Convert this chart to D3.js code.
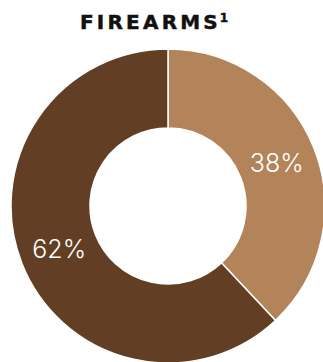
<!DOCTYPE html>
<html>
<head>
<meta charset="utf-8">
<script src="https://cdn.jsdelivr.net/npm/d3@7"></script>
<style>
  body { margin: 0; background: #fff; }
  svg { display: block; }
</style>
</head>
<body>
<script>
/* data */
var categories = ["Share A", "Share B"];
var values = [38, 62];
var colors = ["#B3835A", "#623F24"];

var width = 323, height = 362;
var cx = 168, cy = 206;
var outerR = 157, innerR = 78;

var svg = d3.select("body").append("svg")
  .attr("width", width)
  .attr("height", height);

/* title */
var title = svg.append("text")
  .attr("x", 80)
  .attr("y", 29)
  .style("font-family", "'DejaVu Sans', sans-serif")
  .style("font-weight", 700)
  .style("font-size", "20px")
  .style("letter-spacing", "3.2px")
  .style("fill", "#111")
  .style("stroke", "#111")
  .style("stroke-width", 0.5);
title.append("tspan").text("FIREARM");
title.append("tspan").style("letter-spacing", "0px").text("S");
title.append("tspan")
  .attr("dx", 2)
  .attr("dy", -7)
  .style("font-size", "12px")
  .style("letter-spacing", "0px")
  .text("1");

/* donut */
var pie = d3.pie().sort(null).value(function (d) { return d; });
var arc = d3.arc().innerRadius(innerR).outerRadius(outerR);
var labelArc = d3.arc().innerRadius(117).outerRadius(117);

var g = svg.append("g").attr("transform", "translate(" + cx + "," + cy + ")");

var slices = g.selectAll("g.slice")
  .data(pie(values))
  .enter().append("g").attr("class", "slice");

slices.append("path")
  .attr("d", arc)
  .style("fill", function (d, i) { return colors[i]; })
  .style("stroke", "#fff")
  .style("stroke-width", 1.5);

slices.append("text")
  .attr("transform", function (d) { return "translate(" + labelArc.centroid(d) + ")"; })
  .attr("text-anchor", "middle")
  .attr("dy", "0.36em")
  .style("font-family", "Inter, Lato, sans-serif")
  .style("font-weight", 300)
  .style("font-size", "25px")
  .style("fill", "#fff")
  .text(function (d) { return d.data + "%"; });
</script>
</body>
</html>
